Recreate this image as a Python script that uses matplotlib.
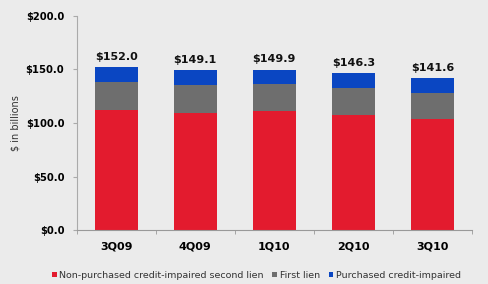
import matplotlib.pyplot as plt
import numpy as np

quarters = ['3Q09', '4Q09', '1Q10', '2Q10', '3Q10']
second_lien = [112.0, 109.5, 111.0, 107.5, 103.5]
first_lien = [26.0, 26.3, 25.0, 25.5, 24.5]
purchased = [14.0, 13.3, 13.9, 13.3, 13.6]
totals = ['$152.0', '$149.1', '$149.9', '$146.3', '$141.6']

bg = '#ebebeb'
fig = plt.figure(figsize=(4.89, 2.84), dpi=100, facecolor=bg)
ax = fig.add_axes([0.157, 0.19, 0.808, 0.754], facecolor=bg)

x = np.arange(len(quarters))
w = 0.54
b1 = np.array(second_lien)
b2 = b1 + np.array(first_lien)
ax.bar(x, second_lien, w, color='#e31b2e', label='Non-purchased credit-impaired second lien')
ax.bar(x, first_lien, w, bottom=b1, color='#6e6e6e', label='First lien')
ax.bar(x, purchased, w, bottom=b2, color='#0a46c2', label='Purchased credit-impaired')

top = b2 + np.array(purchased)
for xi, t, lab in zip(x, top, totals):
    ax.text(xi, t + 5, lab, ha='center', va='bottom', fontsize=8, fontweight='bold', color='#111111')

ax.set_xlim(-0.5, 4.5)
ax.set_ylim(0, 200)
ax.set_yticks([0, 50, 100, 150, 200])
ax.set_yticklabels(['$%.1f' % v for v in [0, 50, 100, 150, 200]], fontsize=7.2, fontweight='bold')
ax.set_xticks(x)
ax.set_xticklabels(quarters, fontsize=8, fontweight='bold')
ax.tick_params(axis='x', length=0, pad=8)
ax.set_xticks(np.arange(-0.5, 5, 1), minor=True)
ax.tick_params(axis='x', which='minor', length=3, color='#999999')
ax.tick_params(axis='y', length=3, color='#aaaaaa', pad=6)
for s in ['top', 'right']:
    ax.spines[s].set_visible(False)
ax.spines['left'].set_color('#aaaaaa')
ax.spines['bottom'].set_color('#999999')
ax.set_ylabel('$ in billions', fontsize=7, color='#333333', labelpad=4)

ax.legend(loc='upper center', bbox_to_anchor=(0.455, -0.15), ncol=3, frameon=False,
          fontsize=6.8, handlelength=0.5, handleheight=0.5, handletextpad=0.3,
          columnspacing=0.9, labelcolor='#333333')

fig.savefig('out.png', dpi=100, facecolor=bg)
